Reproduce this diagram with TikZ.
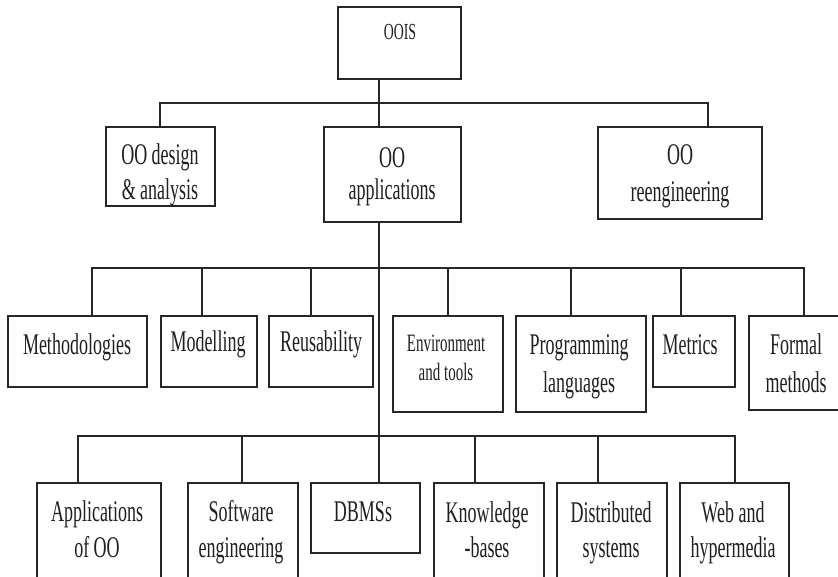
\documentclass[tikz,border=0pt]{standalone}
\usepackage{fontspec}
\setmainfont{Liberation Serif}[FakeStretch=0.6]
\usetikzlibrary{fit}
\newcommand\stacklines[1]{\begin{tabular}[t]{@{}c@{}}#1\end{tabular}}
\tikzset{
  box/.style={draw=black!85, line width=1.2pt, inner sep=0pt, outer sep=0pt},
  wire/.style={draw=black!85, line width=1.1pt},
  lbl/.style={anchor=base, inner sep=0pt, text=black!88, font=\fontsize{30}{#1}\selectfont},
  lbl/.default=37,
}
\begin{document}
\begin{tikzpicture}[x=1pt,y=-1pt]
  \useasboundingbox (0,0) rectangle (838,577);
  \fill[white] (0,0) rectangle (838,577);
  \clip (0,0) rectangle (838,577);

  % ---- boxes ----
  \node[box, fit={(338,7) (461,79)}]    (oois)   {};
  \node[box, fit={(106,127) (215,206)}] (design) {};
  \node[box, fit={(324,127) (461,222)}] (apps)   {};
  \node[box, fit={(598,127) (762,219)}] (reeng)  {};

  \node[box, fit={(8,316) (147,387)}]   (meth)    {};
  \node[box, fit={(161,316) (257,387)}] (model)   {};
  \node[box, fit={(269,316) (373,387)}] (reuse)   {};
  \node[box, fit={(393,316) (503,412)}] (env)     {};
  \node[box, fit={(516,316) (646,412)}] (prog)    {};
  \node[box, fit={(653,316) (735,387)}] (metrics) {};
  \node[box, fit={(749,316) (850,410)}] (formal)  {};

  \node[box, fit={(37,483) (161,592)}]  (appoo)   {};
  \node[box, fit={(188,483) (298,592)}] (softeng) {};
  \node[box, fit={(311,483) (420,553)}] (dbms)    {};
  \node[box, fit={(434,483) (544,592)}] (kb)      {};
  \node[box, fit={(557,483) (667,592)}] (dist)    {};
  \node[box, fit={(680,483) (789,592)}] (web)     {};

  % ---- labels ----
  \node[lbl, font=\fontsize{23}{28}\selectfont] (ooisT) at (400,40) {OOIS};
  \node[lbl=35] (designT) at (160,165) {\stacklines{OO design\\\& analysis}};
  \node[lbl=32] (appsT)   at (392,168) {\stacklines{OO\\applications}};
  \node[lbl=37] (reengT)  at (680,165) {\stacklines{OO\\reengineering}};

  \node[lbl] (methT)    at (77,354)  {Methodologies};
  \node[lbl] (modelT)   at (208,351) {Modelling};
  \node[lbl] (reuseT)   at (321,351) {Reusability};
  \node[lbl, font=\fontsize{25}{29}\selectfont] (envT) at (446,351) {\stacklines{Environment\\and tools}};
  \node[lbl=39] (progT)   at (579,354) {\stacklines{Programming\\languages}};
  \node[lbl] (metricsT) at (690,355) {Metrics};
  \node[lbl=38] (formalT) at (796,355) {\stacklines{Formal\\methods}};

  \node[lbl=36] (appooT)   at (97,521)  {\stacklines{Applications\\of OO}};
  \node[lbl=36] (softengT) at (241,521) {\stacklines{Software\\engineering}};
  \node[lbl]    (dbmsT)    at (363,521) {DBMSs};
  \node[lbl=35] (kbT)      at (487,522) {\stacklines{Knowledge\\-bases}};
  \node[lbl=35] (distT)    at (611,522) {\stacklines{Distributed\\systems}};
  \node[lbl=35] (webT)     at (733,522) {\stacklines{Web and\\hypermedia}};

  % ---- bus points ----
  \coordinate (b1L) at (160,103);
  \coordinate (b1R) at (708,103);
  \coordinate (t1)  at (379,103);

  \coordinate (b2L) at (92,268);
  \coordinate (c2a) at (202,268);
  \coordinate (c2b) at (311,268);
  \coordinate (c2c) at (448,268);
  \coordinate (c2d) at (571,268);
  \coordinate (c2e) at (681,268);
  \coordinate (b2R) at (804,268);

  \coordinate (b3L) at (78,436);
  \coordinate (c3a) at (242,436);
  \coordinate (t3)  at (379,436);
  \coordinate (c3b) at (475,436);
  \coordinate (c3c) at (598,436);
  \coordinate (b3R) at (735,436);

  % ---- level 1 ----
  \draw[wire] (design.north -| b1L) -- (b1L) -- (b1R) -- (reeng.north -| b1R);
  \draw[wire] (oois.south -| t1) -- (apps.north -| t1);

  % ---- trunk from OO applications ----
  \draw[wire] (apps.south -| t1) -- (dbms.north -| t1);

  % ---- level 2 ----
  \draw[wire] (meth.north -| b2L) -- (b2L) -- (b2R) -- (formal.north -| b2R);
  \draw[wire] (model.north -| c2a) -- (c2a);
  \draw[wire] (reuse.north -| c2b) -- (c2b);
  \draw[wire] (env.north -| c2c) -- (c2c);
  \draw[wire] (prog.north -| c2d) -- (c2d);
  \draw[wire] (metrics.north -| c2e) -- (c2e);

  % ---- level 3 ----
  \draw[wire] (appoo.north -| b3L) -- (b3L) -- (b3R) -- (web.north -| b3R);
  \draw[wire] (softeng.north -| c3a) -- (c3a);
  \draw[wire] (kb.north -| c3b) -- (c3b);
  \draw[wire] (dist.north -| c3c) -- (c3c);
\end{tikzpicture}
\end{document}
